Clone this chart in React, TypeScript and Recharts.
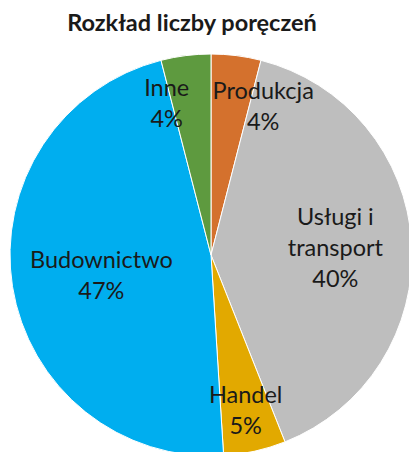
import { PieChart, Pie, Cell } from "recharts";

const sectors = ["Produkcja", "Usługi i transport", "Handel", "Budownictwo", "Inne"];
const shares = [4, 40, 5, 47, 4];

const COLORS = [
  "#D4712D", // orange — Produkcja
  "#BEBEBE", // grey — Usługi i transport
  "#E2A900", // gold — Handel
  "#00AEEF", // blue — Budownictwo
  "#5E9A3F", // green — Inne
];

const data = sectors.map((name, i) => ({ name, value: shares[i] }));

const FONT = "Lato, 'Open Sans', sans-serif";
const LABEL_SIZE = 23.5;
const RAD = Math.PI / 180;

let ctx: CanvasRenderingContext2D | null = null;
function textWidth(s: string) {
  if (!ctx) ctx = document.createElement("canvas").getContext("2d");
  if (!ctx) return s.length * LABEL_SIZE * 0.55;
  ctx.font = `${LABEL_SIZE}px ${FONT}`;
  return ctx.measureText(s).width;
}

// greedy wrap like Excel does in narrow data labels
function wrap(text: string, max = 9) {
  const lines: string[] = [];
  let cur = "";
  for (const w of text.split(" ")) {
    const next = cur ? cur + " " + w : w;
    if (cur && next.length > max) {
      lines.push(cur);
      cur = w;
    } else cur = next;
  }
  if (cur) lines.push(cur);
  return lines;
}

function renderLabel(props: any) {
  const { cx, cy, midAngle, outerRadius, percent, name } = props;
  const small = percent < 0.1;
  let angle = midAngle;
  // small slices near the top: push the label sideways so it fits
  if (small && Math.sin(angle * RAD) > 0.9) {
    angle += Math.cos(angle * RAD) > 0 ? -12 : 9;
  }
  const r = outerRadius * (small ? 0.79 : 0.62);
  let x = cx + r * Math.cos(angle * RAD);
  const y = cy - r * Math.sin(angle * RAD);
  const lines = [...wrap(name), `${Math.round(percent * 100)}%`];
  // keep wide labels inside the circle
  const half = Math.max(...lines.map(textWidth)) / 2;
  const dy = y - cy;
  const edge = Math.sqrt(Math.max(0, outerRadius * outerRadius - dy * dy)) - 19;
  if (x - half < cx - edge) x = cx - edge + half;
  if (x + half > cx + edge) x = cx + edge - half;
  const lh = 31;
  return (
    <text x={x} y={y} textAnchor="middle" fill="#1a1a1a" fontSize={LABEL_SIZE} fontFamily={FONT}>
      {lines.map((l, i) => (
        <tspan key={i} x={x} y={y + (i - (lines.length - 1) / 2) * lh} dominantBaseline="central">
          {l}
        </tspan>
      ))}
    </text>
  );
}

export default function App() {
  return (
    <div style={{ position: "absolute", left: 0, top: 0, width: 409, height: 452, background: "#fff", overflow: "hidden" }}>
      <div
        style={{
          position: "absolute",
          left: 0,
          top: 7,
          width: 384,
          textAlign: "center",
          fontFamily: FONT,
          fontWeight: 700,
          fontSize: 23.5,
          color: "#1a1a1a",
          lineHeight: "30px",
        }}
      >
        Rozkład liczby poręczeń
      </div>
      <PieChart
        width={409}
        height={452}
        margin={{ top: 0, right: 0, bottom: 0, left: 0 }}
        style={{ position: "absolute", left: 0, top: 0 }}
      >
        <Pie
          data={data}
          dataKey="value"
          nameKey="name"
          cx={211}
          cy={255}
          outerRadius={201}
          startAngle={90}
          endAngle={-270}
          stroke="#ffffff"
          strokeWidth={1}
          labelLine={false}
          label={renderLabel}
          isAnimationActive={false}
        >
          {data.map((_, i) => (
            <Cell key={i} fill={COLORS[i]} />
          ))}
        </Pie>
      </PieChart>
    </div>
  );
}
